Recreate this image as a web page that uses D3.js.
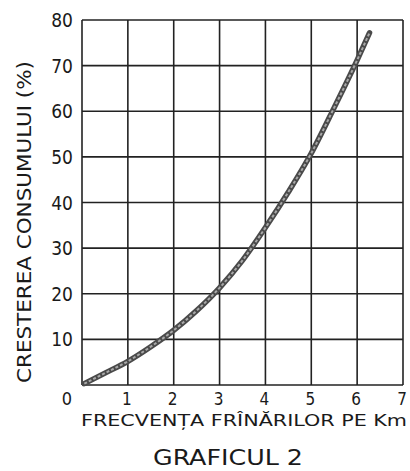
<!DOCTYPE html>
<html>
<head>
<meta charset="utf-8">
<script src="https://cdn.jsdelivr.net/npm/d3@7"></script>
<style>
  html, body { margin: 0; padding: 0; background: #fff; }
  svg text { font-family: "DejaVu Sans Condensed", "Liberation Sans Narrow", "Liberation Sans", sans-serif; fill: #1a1a1a; }
</style>
</head>
<body>
<svg id="chart" width="410" height="471"></svg>
<script>
// Data
const freqX = [0.05, 0.5, 1, 1.5, 2, 2.5, 3, 3.5, 4, 4.5, 5, 5.5, 6, 6.27];
const growthY = [0.3, 2.6, 5.2, 8.4, 12.0, 16.3, 21.3, 27.3, 34.5, 42.3, 50.8, 60.8, 71.2, 77.2];
const xTicks = [1, 2, 3, 4, 5, 6, 7];
const yTicks = [10, 20, 30, 40, 50, 60, 70, 80];
const xTitle = "FRECVENȚA  FRÎNĂRILOR PE Km";
const yTitle = "CRESTEREA  CONSUMULUI (%)";
const chartTitle = "GRAFICUL  2";

const svg = d3.select("#chart");
const x = d3.scaleLinear().domain([0, 7]).range([82, 403]);
const y = d3.scaleLinear().domain([0, 80]).range([385, 20]);

// grid
const g = svg.append("g");
g.selectAll("line.v").data(d3.range(0, 8)).enter().append("line")
  .attr("x1", d => x(d)).attr("x2", d => x(d))
  .attr("y1", y(0)).attr("y2", y(80))
  .attr("stroke", "#222").attr("stroke-width", 1.6);
g.selectAll("line.h").data(d3.range(0, 90, 10)).enter().append("line")
  .attr("y1", d => y(d)).attr("y2", d => y(d))
  .attr("x1", x(0)).attr("x2", x(7))
  .attr("stroke", "#222").attr("stroke-width", 1.6);

// y tick labels
svg.selectAll("text.yt").data(yTicks).enter().append("text")
  .attr("x", 73).attr("y", d => y(d) + 7)
  .attr("text-anchor", "end").attr("font-size", 19)
  .text(d => d);
// zero label
svg.append("text").attr("x", 67).attr("y", 405).attr("text-anchor", "middle")
  .attr("font-size", 18).text("0");
// x tick labels
svg.selectAll("text.xt").data(xTicks).enter().append("text")
  .attr("x", d => x(d) - 1).attr("y", 405)
  .attr("text-anchor", "middle").attr("font-size", 17)
  .text(d => d);

// curve
const line = d3.line().x((d, i) => x(freqX[i])).y(d => y(d)).curve(d3.curveMonotoneX);
svg.append("path").datum(growthY).attr("d", line)
  .attr("fill", "none").attr("stroke", "#4a4a4a").attr("stroke-width", 5.5).attr("stroke-linecap", "round");
svg.append("path").datum(growthY).attr("d", line)
  .attr("fill", "none").attr("stroke", "#a8a8a8").attr("stroke-width", 2).attr("stroke-dasharray", "3 2");

// titles
svg.append("text").attr("x", 244).attr("y", 426).attr("text-anchor", "middle")
  .attr("font-size", 16).attr("textLength", 326).attr("lengthAdjust", "spacingAndGlyphs")
  .text(xTitle);
svg.append("text").attr("transform", "translate(31,222) rotate(-90)")
  .attr("text-anchor", "middle").attr("font-size", 19)
  .attr("textLength", 322).attr("lengthAdjust", "spacingAndGlyphs")
  .text(yTitle);
svg.append("text").attr("x", 228).attr("y", 465).attr("text-anchor", "middle")
  .attr("font-size", 22).attr("textLength", 150).attr("lengthAdjust", "spacingAndGlyphs")
  .text(chartTitle);
</script>
</body>
</html>
